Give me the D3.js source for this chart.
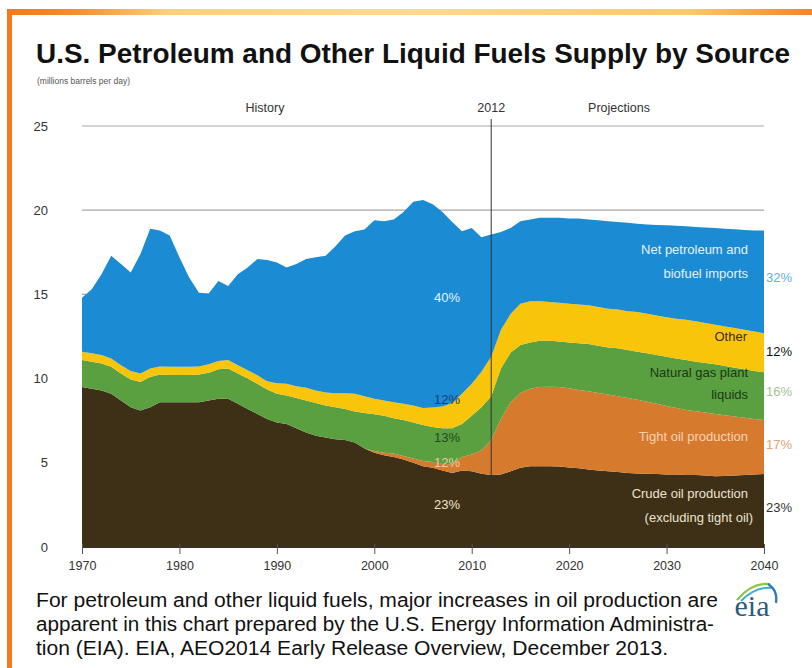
<!DOCTYPE html>
<html><head><meta charset="utf-8">
<script src="https://cdn.jsdelivr.net/npm/d3@7"></script>
<style>
html,body{margin:0;padding:0;background:#fff;}
svg{display:block;font-family:"Liberation Sans",Arial,sans-serif;}
</style></head>
<body>
<svg id="chart" width="812" height="668"></svg>
<script>
// ---- DATA (millions barrels per day) ----
const years = d3.range(1970, 2041);
const crude = [9.5,9.4,9.3,9.1,8.7,8.3,8.1,8.3,8.6,8.6,
 8.6,8.6,8.6,8.7,8.8,8.8,8.5,8.2,7.9,7.6,
 7.4,7.3,7.05,6.8,6.6,6.5,6.4,6.35,6.2,5.85,
 5.6,5.45,5.35,5.2,5.0,4.8,4.7,4.55,4.4,4.55,
 4.5,4.35,4.27,4.3,4.5,4.7,4.8,4.8,4.8,4.78,
 4.72,4.68,4.6,4.55,4.5,4.45,4.4,4.37,4.35,4.33,
 4.3,4.3,4.28,4.27,4.25,4.2,4.22,4.25,4.27,4.3,
 4.33];
const tight = [0,0,0,0,0,0,0,0,0,0,
 0,0,0,0,0,0,0,0,0,0,
 0,0,0,0,0,0,0,0,0,0,
 0.1,0.15,0.2,0.2,0.25,0.3,0.35,0.4,0.5,0.8,
 1.0,1.4,2.08,3.3,4.1,4.45,4.6,4.7,4.72,4.72,
 4.7,4.65,4.65,4.6,4.55,4.5,4.45,4.38,4.27,4.17,
 4.08,3.96,3.86,3.79,3.73,3.7,3.6,3.5,3.41,3.3,
 3.21];
const ngpl = [1.6,1.6,1.6,1.6,1.6,1.65,1.7,1.8,1.65,1.62,
 1.62,1.62,1.65,1.65,1.75,1.8,1.8,1.8,1.8,1.75,
 1.7,1.7,1.8,1.9,1.95,1.9,1.9,1.85,1.85,2.1,
 2.18,2.2,2.1,2.14,2.15,2.15,2.07,2.1,2.15,1.95,
 2.3,2.55,2.6,3.0,2.95,2.85,2.75,2.75,2.73,2.7,
 2.73,2.77,2.8,2.8,2.8,2.85,2.85,2.85,2.88,2.9,
 2.92,2.94,2.96,2.94,2.94,2.95,2.93,2.9,2.87,2.85,
 2.84];
const other = [0.5,0.5,0.5,0.5,0.5,0.5,0.5,0.5,0.47,0.48,
 0.48,0.48,0.47,0.5,0.5,0.5,0.5,0.5,0.5,0.5,
 0.62,0.7,0.7,0.75,0.75,0.78,0.83,0.93,1.05,1.0,
 0.92,0.9,0.95,0.96,1.0,1.0,1.16,1.3,1.5,1.8,
 1.9,2.1,2.35,2.3,2.3,2.45,2.45,2.35,2.3,2.3,
 2.3,2.3,2.3,2.3,2.3,2.3,2.3,2.35,2.35,2.35,
 2.35,2.35,2.4,2.4,2.38,2.35,2.35,2.35,2.35,2.35,
 2.32];
const imports = [3.2,3.8,4.8,6.1,6.0,5.85,7.1,8.3,8.08,7.8,
 6.5,5.3,4.38,4.2,4.75,4.4,5.4,6.1,6.9,7.2,
 7.18,6.9,7.25,7.65,7.9,8.12,8.72,9.37,9.65,9.9,
 10.6,10.65,10.85,11.4,12.1,12.35,12.07,11.55,10.75,9.65,
 9.25,8.0,7.25,5.8,5.1,4.9,4.85,4.95,5.0,5.05,
 5.05,5.1,5.1,5.15,5.2,5.2,5.25,5.25,5.3,5.37,
 5.45,5.53,5.55,5.6,5.67,5.75,5.8,5.87,5.92,6.0,
 6.1];
const seriesKeys = ["crude","tight","ngpl","other","imports"];
const seriesColors = ["#3e3016","#d67a2e","#5a9f40","#f9c50b","#1b8bd3"];
const xTicks = [1970,1980,1990,2000,2010,2020,2030,2040];
const yTicks = [0,5,10,15,20,25];
const divideYear = 2012;
const shares2040 = ["23%","17%","16%","12%","32%"];
const shares2012 = ["23%","12%","13%","12%","40%"];

// ---- BUILD ----
const table = years.map((yr,i)=>({year:yr,crude:crude[i],tight:tight[i],ngpl:ngpl[i],other:other[i],imports:imports[i]}));
const svg = d3.select("#chart");
const narrow = "'Liberation Sans Narrow','Arial Narrow','Liberation Sans',Arial,sans-serif";

// frame
const defs = svg.append("defs");
const g1 = defs.append("linearGradient").attr("id","topbar").attr("x1","0").attr("x2","1").attr("y1","0").attr("y2","0");
[[0,"#f27a1c"],[0.08,"#f58a2c"],[0.2,"#fcd07a"],[0.5,"#fdd88e"],[0.85,"#fcc868"],[0.95,"#f69a3a"],[1,"#f5832a"]]
  .forEach(([o,c])=>g1.append("stop").attr("offset",o).attr("stop-color",c));
svg.append("rect").attr("x",7).attr("y",9).attr("width",805).attr("height",6).attr("fill","url(#topbar)");
svg.append("rect").attr("x",7).attr("y",9).attr("width",5).attr("height",659).attr("fill","#f27a1c");

// title
svg.append("text").attr("x",36).attr("y",63).attr("font-size",27).attr("font-weight","bold")
  .attr("font-family",narrow)
  .attr("fill","#111").attr("textLength",754).attr("lengthAdjust","spacingAndGlyphs")
  .text("U.S. Petroleum and Other Liquid Fuels Supply by Source");
svg.append("text").attr("x",37).attr("y",84).attr("font-size",8.5).attr("fill","#555")
  .text("(millions barrels per day)");

const x = d3.scaleLinear().domain([1970,2040]).range([82,764]);
const y = d3.scaleLinear().domain([0,25]).range([547,126]);

// gridlines
svg.append("g").selectAll("line").data(yTicks.filter(d=>d>0)).join("line")
  .attr("x1",x(1970)).attr("x2",x(2040)).attr("y1",d=>y(d)).attr("y2",d=>y(d))
  .attr("stroke","#a8a8a8").attr("stroke-width",1.2);

// stacked areas
const stack = d3.stack().keys(seriesKeys);
const layers = stack(table);
const area = d3.area().x(d=>x(d.data.year)).y0(d=>y(d[0])).y1(d=>y(d[1])).curve(d3.curveLinear);
svg.append("g").selectAll("path").data(layers).join("path")
  .attr("d",area).attr("fill",(d,i)=>seriesColors[i]);

// divider line
svg.append("line").attr("x1",x(divideYear)).attr("x2",x(divideYear)).attr("y1",119).attr("y2",y(0))
  .attr("stroke","#333").attr("stroke-width",1);

// axes
const xAxis = svg.append("g").attr("transform",`translate(0,${y(0)})`)
  .call(d3.axisBottom(x).tickValues(xTicks).tickFormat(d3.format("d")).tickSizeInner(7).tickSizeOuter(0).tickPadding(7));
xAxis.select(".domain").attr("stroke","#333");
xAxis.selectAll(".tick line").attr("stroke","#555").attr("y1",-3);
xAxis.selectAll(".tick text").attr("font-size",12.5).attr("fill","#333").attr("font-family","Liberation Sans, Arial, sans-serif");

const yAxis = svg.append("g").attr("transform","translate(48,0)")
  .call(d3.axisLeft(y).tickValues(yTicks).tickSize(0).tickPadding(0));
yAxis.select(".domain").remove();
yAxis.selectAll(".tick text").attr("font-size",13).attr("fill","#333").attr("font-family","Liberation Sans, Arial, sans-serif");

// period labels
const hdr = svg.append("g").attr("font-size",12.5).attr("fill","#333").attr("text-anchor","middle");
hdr.append("text").attr("x",265).attr("y",112).text("History");
hdr.append("text").attr("x",x(divideYear)).attr("y",112).text("2012");
hdr.append("text").attr("x",619).attr("y",112).text("Projections");

// series labels inside chart
const lab = svg.append("g").attr("font-size",13).attr("text-anchor","end");
const labels = [
  {t:"Net petroleum and",y:254,c:"#e4f1fa",x:748},
  {t:"biofuel imports",y:278,c:"#e4f1fa",x:748},
  {t:"Other",y:341,c:"#3a2c08",x:747},
  {t:"Natural gas plant",y:377,c:"#1b3818",x:748},
  {t:"liquids",y:399,c:"#1b3818",x:748},
  {t:"Tight oil production",y:441,c:"#f6d3b6",x:748},
  {t:"Crude oil production",y:498,c:"#ece3cf",x:748},
  {t:"(excluding tight oil)",y:522,c:"#ece3cf",x:753}
];
lab.selectAll("text").data(labels).join("text").attr("x",d=>d.x).attr("y",d=>d.y).attr("fill",d=>d.c).text(d=>d.t);

// right-hand 2040 shares
const rightY = [512,449,396,356,282];
const rightC = ["#333","#e8a07a","#a3c295","#111","#62b2df"];
svg.append("g").attr("font-size",13).selectAll("text").data(shares2040).join("text")
  .attr("x",766).attr("y",(d,i)=>rightY[i]).attr("fill",(d,i)=>rightC[i]).text(d=>d);

// 2012 shares inside chart
const innerY = [509,467,442,404,302];
const innerC = ["#efe4cc","#f3c9a6","#1f4a22","#1d3c78","#e6f3fb"];
svg.append("g").attr("font-size",13).attr("text-anchor","middle").selectAll("text").data(shares2012).join("text")
  .attr("x",447).attr("y",(d,i)=>innerY[i]).attr("fill",(d,i)=>innerC[i]).text(d=>d);

// caption
const cap = svg.append("g").attr("font-size",20).attr("fill","#111").attr("font-family",narrow);
[["For petroleum and other liquid fuels, major increases in oil production are",607,682],
 ["apparent in this chart prepared by the U.S. Energy Information Administra-",631,678],
 ["tion (EIA). EIA, AEO2014 Early Release Overview, December 2013.",655,632]]
 .forEach(([t,yy,w])=>cap.append("text").attr("x",36).attr("y",yy).attr("textLength",w)
   .attr("lengthAdjust","spacingAndGlyphs").text(t));

// eia logo
const logo = svg.append("g");
logo.append("path").attr("d","M737,600 Q752,582 770,584").attr("fill","none").attr("stroke","#8cc63f").attr("stroke-width",2.2);
logo.append("path").attr("d","M741,601 Q756,586 772,588").attr("fill","none").attr("stroke","#3bb0c9").attr("stroke-width",2);
logo.append("path").attr("d","M768,584 Q778,590 776,603").attr("fill","none").attr("stroke","#2a7fb8").attr("stroke-width",2.2);
logo.append("text").attr("x",752).attr("y",616).attr("text-anchor","middle").attr("font-family","Liberation Serif, DejaVu Serif, serif")
  .attr("font-size",30).attr("fill","#2c5b7c").text("eia");
</script>
</body></html>
